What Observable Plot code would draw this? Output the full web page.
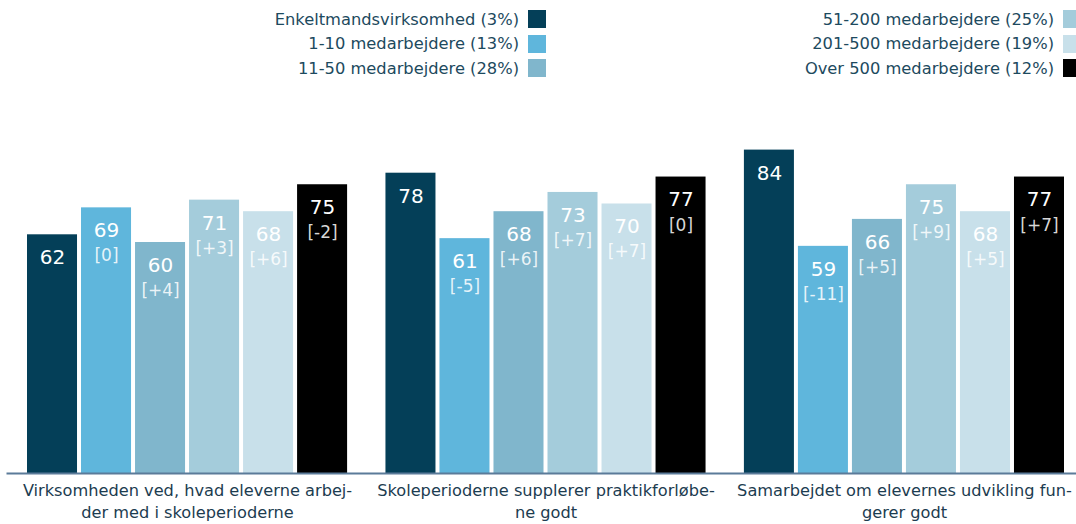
<!DOCTYPE html>
<html>
<head>
<meta charset="utf-8">
<script src="https://cdn.jsdelivr.net/npm/d3@7"></script>
<script src="https://cdn.jsdelivr.net/npm/@observablehq/plot@0.6"></script>
<style>
  html, body { margin: 0; padding: 0; background: #fff; }
  body { width: 1076px; height: 524px; overflow: hidden; font-family: "DejaVu Sans", Verdana, sans-serif; }
  #legend { position: relative; height: 85px; width: 1076px; }
  .lcol { position: absolute; top: 7px; }
  .lrow { display: flex; align-items: center; justify-content: flex-end; height: 24.5px; font-size: 16.3px; color: #1d4a5e; white-space: nowrap; }
  .sw { width: 18px; height: 18px; margin-left: 9px; flex: none; }
</style>
</head>
<body>
<div id="legend"></div>
<div id="chart"></div>
<script>
const groups = [
  "Virksomheden ved, hvad eleverne arbej-\nder med i skoleperioderne",
  "Skoleperioderne supplerer praktikforløbe-\nne godt",
  "Samarbejdet om elevernes udvikling fun-\ngerer godt"
];
const series = [
  "Enkeltmandsvirksomhed (3%)",
  "1-10 medarbejdere (13%)",
  "11-50 medarbejdere (28%)",
  "51-200 medarbejdere (25%)",
  "201-500 medarbejdere (19%)",
  "Over 500 medarbejdere (12%)"
];
const colors = ["#043f58", "#5fb6dc", "#80b6cc", "#a4ccdb", "#c8e0ea", "#000000"];
const values = [
  [62, 69, 60, 71, 68, 75],
  [78, 61, 68, 73, 70, 77],
  [84, 59, 66, 75, 68, 77]
];
const changes = [
  ["", "[0]", "[+4]", "[+3]", "[+6]", "[-2]"],
  ["", "[-5]", "[+6]", "[+7]", "[+7]", "[0]"],
  ["", "[-11]", "[+5]", "[+9]", "[+5]", "[+7]"]
];

const data = [];
groups.forEach((g, gi) => series.forEach((s, si) => {
  data.push({group: g, series: s, value: values[gi][si], change: changes[gi][si]});
}));

// Legend
const legend = document.getElementById("legend");
const cols = [{right: 1076 - 546, items: [0,1,2]}, {right: -5, items: [3,4,5]}];
cols.forEach(c => {
  const col = document.createElement("div");
  col.className = "lcol";
  col.style.right = c.right + "px";
  c.items.forEach(i => {
    const row = document.createElement("div");
    row.className = "lrow";
    const t = document.createElement("span");
    t.textContent = series[i];
    const sw = document.createElement("span");
    sw.className = "sw";
    sw.style.background = colors[i];
    row.appendChild(t); row.appendChild(sw);
    col.appendChild(row);
  });
  legend.appendChild(col);
});

const chart = Plot.plot({
  width: 1076,
  height: 439,
  marginTop: 3,
  marginBottom: 51,
  marginLeft: 27,
  marginRight: 12,
  style: {fontFamily: "DejaVu Sans, Verdana, sans-serif", background: "#fff"},
  fx: {domain: groups, paddingInner: 0.107, paddingOuter: 0, round: false, label: null},
  x: {domain: series, paddingInner: 0.074, paddingOuter: 0, round: false, axis: null},
  y: {domain: [0, 100], axis: null},
  color: {domain: series, range: colors},
  marks: [
    Plot.barY(data, {fx: "group", x: "series", y: "value", fill: "series"}),
    Plot.frame({anchor: "bottom", facet: "super", stroke: "#5b7b99", strokeWidth: 2, insetLeft: -20, insetRight: -12}),
    Plot.text(data, {fx: "group", x: "series", y: "value", text: d => String(d.value), dy: 23, fill: "white", fontSize: 20}),
    Plot.text(data, {fx: "group", x: "series", y: "value", text: "change", dy: 48, fill: "white", fillOpacity: 0.85, fontSize: 17}),
    Plot.axisFx({tickSize: 0, tickPadding: 7, fontSize: 16.2, lineHeight: 1.36, fill: "#1c3c50", label: null, anchor: "bottom"})
  ]
});
document.getElementById("chart").appendChild(chart);
</script>
</body>
</html>
